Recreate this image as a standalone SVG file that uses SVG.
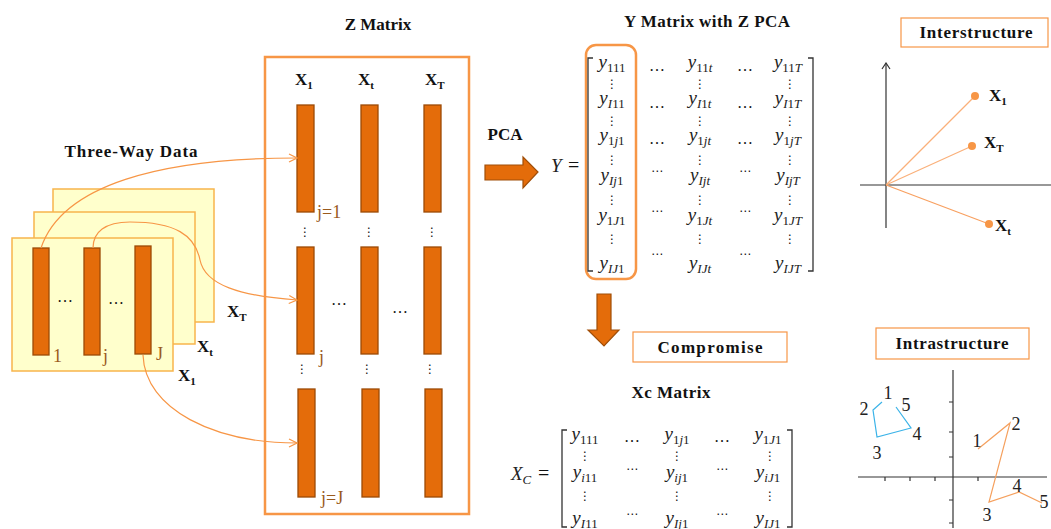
<svg xmlns="http://www.w3.org/2000/svg" width="1051" height="529" viewBox="0 0 1051 529">
<defs>
<style>
text{font-family:"Liberation Serif","Times New Roman",serif;fill:#111}
.t{font-weight:bold;font-size:17px}
.xl{font-weight:bold;font-size:17px}
.xs{font-size:11px;font-weight:bold}
.br{fill:#9a5a1c;font-size:18px}
.layer{fill:#FFFFCC;stroke:#F8B54C;stroke-width:1.5}
.bar{fill:#E46C0A;stroke:#9C4A06;stroke-width:1.3}
.dots{font-family:"DejaVu Sans",sans-serif;font-size:12px;fill:#111}
.hd{font-family:"Liberation Serif",serif;font-size:16px}
.hc{font-family:"DejaVu Sans",sans-serif;font-size:12px}
.m{font-style:italic;font-size:19px;fill:#222}
.s{font-style:normal;font-size:13px}
.i{font-style:italic}
.brk{fill:none;stroke:#333;stroke-width:1.3}
.conn{fill:none;stroke:#F79646;stroke-width:1.2}
.lbox{fill:#fff;stroke:#F79646;stroke-width:1.2}
.blk{fill:#E46C0A;stroke:#A04E08;stroke-width:1.2}
.ax{stroke:#333;stroke-width:1.2;fill:none}
.num{font-size:18px;fill:#222}
</style>
<marker id="oa" viewBox="0 0 10 10" refX="9" refY="5" markerWidth="10" markerHeight="10" markerUnits="userSpaceOnUse" orient="auto">
<path d="M1,1 L9,5 L1,9" fill="none" stroke="#F79646" stroke-width="1.2"/>
</marker>
<marker id="ka" viewBox="0 0 10 10" refX="5" refY="1" markerWidth="10" markerHeight="10" markerUnits="userSpaceOnUse" orient="0">
<path d="M1,7 L5,1 L9,7" fill="none" stroke="#333" stroke-width="1.2"/>
</marker>
</defs>
<rect width="1051" height="529" fill="#fff"/>

<g id="three-way-data">
<text class="t" x="131" y="157" text-anchor="middle" textLength="133">Three-Way Data</text>
<rect class="layer" x="53" y="189" width="161" height="133"/>
<rect class="layer" x="34" y="212" width="161" height="132"/>
<rect class="layer" x="12" y="238" width="161" height="133"/>
<rect class="bar" x="33" y="248" width="16" height="107"/>
<rect class="bar" x="84" y="248" width="16" height="107"/>
<rect class="bar" x="135" y="246" width="16" height="108"/>
<text class="hd" x="65" y="302" text-anchor="middle">…</text>
<text class="hd" x="116" y="304" text-anchor="middle">…</text>
<text class="br" x="53" y="362">1</text>
<text class="br" x="103" y="362">j</text>
<text class="br" x="156" y="360">J</text>
<text class="xl" x="227" y="317">X<tspan class="xs" dy="4">T</tspan></text>
<text class="xl" x="197" y="352">X<tspan class="xs" dy="4">t</tspan></text>
<text class="xl" x="178" y="381">X<tspan class="xs" dy="4">1</tspan></text>
</g>

<g id="z-matrix">
<text class="t" x="378" y="30" text-anchor="middle">Z Matrix</text>
<rect x="265" y="57" width="204" height="457" fill="none" stroke="#F79646" stroke-width="2.5"/>
<text class="xl" x="295" y="85">X<tspan class="xs" dy="4">1</tspan></text>
<text class="xl" x="358" y="85">X<tspan class="xs" dy="4">t</tspan></text>
<text class="xl" x="425" y="85">X<tspan class="xs" dy="4">T</tspan></text>
<rect class="bar" x="297" y="105" width="17" height="107"/>
<rect class="bar" x="361" y="105" width="17" height="107"/>
<rect class="bar" x="424" y="105" width="17" height="107"/>
<rect class="bar" x="297" y="247" width="17" height="107"/>
<rect class="bar" x="361" y="247" width="17" height="107"/>
<rect class="bar" x="424" y="247" width="17" height="107"/>
<rect class="bar" x="298" y="389" width="17" height="108"/>
<rect class="bar" x="362" y="389" width="17" height="108"/>
<rect class="bar" x="425" y="389" width="17" height="108"/>
<text class="dots" x="305" y="236" text-anchor="middle">⋮</text>
<text class="dots" x="369" y="236" text-anchor="middle">⋮</text>
<text class="dots" x="432" y="236" text-anchor="middle">⋮</text>
<text class="dots" x="302" y="373" text-anchor="middle">⋮</text>
<text class="dots" x="367" y="373" text-anchor="middle">⋮</text>
<text class="dots" x="430" y="373" text-anchor="middle">⋮</text>
<text class="hd" x="339" y="305" text-anchor="middle">…</text>
<text class="hd" x="400" y="313" text-anchor="middle">…</text>
<text class="br" x="317" y="218">j=1</text>
<text class="br" x="319" y="363">j</text>
<text class="br" x="321" y="504">j=J</text>
</g>

<g id="connectors">
<path class="conn" d="M41,248 C62,185 160,158 297,158" marker-end="url(#oa)"/>
<path class="conn" d="M93,248 C93,232 105,222 130,222 C175,222 195,235 200,260 C205,285 240,296 297,300" marker-end="url(#oa)"/>
<path class="conn" d="M143,355 C145,410 215,443 297,443" marker-end="url(#oa)"/>
</g>

<g id="pca-arrow">
<text class="t" x="505" y="140" text-anchor="middle">PCA</text>
<path class="blk" d="M485,165 H523 V157 L538,172 L523,188 V180 H485 Z"/>
</g>

<g id="y-matrix">
<text class="t" x="707" y="27" text-anchor="middle" textLength="166">Y Matrix with Z PCA</text>
<rect x="586" y="45" width="50" height="234" rx="10" fill="none" stroke="#F79646" stroke-width="2.5"/>
<text class="m" x="551" y="172">Y</text><text x="568" y="172" font-size="20" fill="#222">=</text>
<path class="brk" d="M593,58 H588 V271 H593"/>
<path class="brk" d="M808,58 H813 V271 H808"/>
<text class="m" x="612" y="68" text-anchor="middle">y<tspan class="s" dy="4">111</tspan></text>
<text class="hd" x="657" y="71" text-anchor="middle">…</text>
<text class="m" x="700" y="68" text-anchor="middle">y<tspan class="s" dy="4">11<tspan class="i">t</tspan></tspan></text>
<text class="hd" x="745" y="71" text-anchor="middle">…</text>
<text class="m" x="788" y="68" text-anchor="middle">y<tspan class="s" dy="4">11<tspan class="i">T</tspan></tspan></text>
<text class="m" x="612" y="104" text-anchor="middle">y<tspan class="s" dy="4"><tspan class="i">I</tspan>11</tspan></text>
<text class="hd" x="657" y="108" text-anchor="middle">…</text>
<text class="m" x="700" y="104" text-anchor="middle">y<tspan class="s" dy="4"><tspan class="i">I</tspan>1<tspan class="i">t</tspan></tspan></text>
<text class="hd" x="745" y="108" text-anchor="middle">…</text>
<text class="m" x="788" y="104" text-anchor="middle">y<tspan class="s" dy="4"><tspan class="i">I</tspan>1<tspan class="i">T</tspan></tspan></text>
<text class="m" x="612" y="141" text-anchor="middle">y<tspan class="s" dy="4">1<tspan class="i">j</tspan>1</tspan></text>
<text class="hd" x="657" y="144" text-anchor="middle">…</text>
<text class="m" x="700" y="141" text-anchor="middle">y<tspan class="s" dy="4">1<tspan class="i">jt</tspan></tspan></text>
<text class="hd" x="745" y="144" text-anchor="middle">…</text>
<text class="m" x="788" y="141" text-anchor="middle">y<tspan class="s" dy="4">1<tspan class="i">jT</tspan></tspan></text>
<text class="m" x="612" y="181" text-anchor="middle">y<tspan class="s" dy="4"><tspan class="i">Ij</tspan>1</tspan></text>
<text class="hc" x="657" y="175" text-anchor="middle">⋯</text>
<text class="m" x="700" y="181" text-anchor="middle">y<tspan class="s" dy="4"><tspan class="i">Ijt</tspan></tspan></text>
<text class="hc" x="745" y="175" text-anchor="middle">⋯</text>
<text class="m" x="788" y="181" text-anchor="middle">y<tspan class="s" dy="4"><tspan class="i">IjT</tspan></tspan></text>
<text class="m" x="612" y="221" text-anchor="middle">y<tspan class="s" dy="4">1<tspan class="i">J</tspan>1</tspan></text>
<text class="hc" x="657" y="215" text-anchor="middle">⋯</text>
<text class="m" x="700" y="221" text-anchor="middle">y<tspan class="s" dy="4">1<tspan class="i">Jt</tspan></tspan></text>
<text class="hc" x="745" y="215" text-anchor="middle">⋯</text>
<text class="m" x="788" y="221" text-anchor="middle">y<tspan class="s" dy="4">1<tspan class="i">JT</tspan></tspan></text>
<text class="m" x="612" y="269" text-anchor="middle">y<tspan class="s" dy="4"><tspan class="i">IJ</tspan>1</tspan></text>
<text class="hc" x="657" y="258" text-anchor="middle">⋯</text>
<text class="m" x="700" y="269" text-anchor="middle">y<tspan class="s" dy="4"><tspan class="i">IJt</tspan></tspan></text>
<text class="hc" x="745" y="258" text-anchor="middle">⋯</text>
<text class="m" x="788" y="269" text-anchor="middle">y<tspan class="s" dy="4"><tspan class="i">IJT</tspan></tspan></text>
<text class="dots" x="612" y="88" text-anchor="middle">⋮</text>
<text class="dots" x="700" y="88" text-anchor="middle">⋮</text>
<text class="dots" x="790" y="88" text-anchor="middle">⋮</text>
<text class="dots" x="612" y="125" text-anchor="middle">⋮</text>
<text class="dots" x="700" y="125" text-anchor="middle">⋮</text>
<text class="dots" x="790" y="125" text-anchor="middle">⋮</text>
<text class="dots" x="612" y="164" text-anchor="middle">⋮</text>
<text class="dots" x="700" y="164" text-anchor="middle">⋮</text>
<text class="dots" x="790" y="164" text-anchor="middle">⋮</text>
<text class="dots" x="612" y="204" text-anchor="middle">⋮</text>
<text class="dots" x="700" y="204" text-anchor="middle">⋮</text>
<text class="dots" x="790" y="204" text-anchor="middle">⋮</text>
<text class="dots" x="612" y="243" text-anchor="middle">⋮</text>
<text class="dots" x="700" y="243" text-anchor="middle">⋮</text>
<text class="dots" x="790" y="243" text-anchor="middle">⋮</text>
</g>

<g id="compromise-arrow">
<path class="blk" d="M597,294 H611 V330 H619 L604,346 L588,330 H597 Z"/>
</g>

<g id="compromise">
<rect class="lbox" x="633" y="332" width="154" height="30"/>
<text class="t" x="710" y="353" text-anchor="middle" textLength="105">Compromise</text>
</g>

<g id="xc-matrix">
<text class="t" x="671" y="398" text-anchor="middle" textLength="79">Xc Matrix</text>
<text class="m" x="511" y="480">X<tspan class="s i" dy="4">C</tspan></text><text x="538" y="480" font-size="20" fill="#222">=</text>
<path class="brk" d="M567,430 H562 V527 H567"/>
<path class="brk" d="M787,430 H792 V527 H787"/>
<text class="m" x="585" y="440" text-anchor="middle">y<tspan class="s" dy="4">111</tspan></text>
<text class="hd" x="632" y="442" text-anchor="middle">…</text>
<text class="m" x="677" y="440" text-anchor="middle">y<tspan class="s" dy="4">1<tspan class="i">j</tspan>1</tspan></text>
<text class="hd" x="722" y="442" text-anchor="middle">…</text>
<text class="m" x="768" y="440" text-anchor="middle">y<tspan class="s" dy="4">1<tspan class="i">J</tspan>1</tspan></text>
<text class="m" x="585" y="478" text-anchor="middle">y<tspan class="s" dy="4"><tspan class="i">i</tspan>11</tspan></text>
<text class="hc" x="632" y="473" text-anchor="middle">⋯</text>
<text class="m" x="677" y="478" text-anchor="middle">y<tspan class="s" dy="4"><tspan class="i">ij</tspan>1</tspan></text>
<text class="hc" x="722" y="473" text-anchor="middle">⋯</text>
<text class="m" x="768" y="478" text-anchor="middle">y<tspan class="s" dy="4"><tspan class="i">iJ</tspan>1</tspan></text>
<text class="m" x="585" y="524" text-anchor="middle">y<tspan class="s" dy="4"><tspan class="i">I</tspan>11</tspan></text>
<text class="hc" x="632" y="518" text-anchor="middle">⋯</text>
<text class="m" x="677" y="524" text-anchor="middle">y<tspan class="s" dy="4"><tspan class="i">Ij</tspan>1</tspan></text>
<text class="hc" x="722" y="518" text-anchor="middle">⋯</text>
<text class="m" x="768" y="524" text-anchor="middle">y<tspan class="s" dy="4"><tspan class="i">IJ</tspan>1</tspan></text>
<text class="dots" x="585" y="460" text-anchor="middle">⋮</text>
<text class="dots" x="677" y="460" text-anchor="middle">⋮</text>
<text class="dots" x="770" y="460" text-anchor="middle">⋮</text>
<text class="dots" x="585" y="500" text-anchor="middle">⋮</text>
<text class="dots" x="677" y="500" text-anchor="middle">⋮</text>
<text class="dots" x="770" y="500" text-anchor="middle">⋮</text>
</g>

<g id="interstructure">
<rect class="lbox" x="901" y="18" width="147" height="29"/>
<text class="t" x="976" y="38" text-anchor="middle" textLength="113">Interstructure</text>
<line class="ax" x1="886" y1="228" x2="886" y2="63" marker-end="url(#ka)"/>
<line class="ax" x1="860" y1="185" x2="1051" y2="185"/>
<line x1="886" y1="185" x2="975" y2="96" stroke="#FAB07A" stroke-width="1.2"/>
<line x1="886" y1="185" x2="972" y2="146" stroke="#FAB07A" stroke-width="1.2"/>
<line x1="886" y1="185" x2="989" y2="224" stroke="#F8A060" stroke-width="1.2"/>
<circle cx="975" cy="96" r="4" fill="#F79646"/>
<circle cx="972" cy="146" r="4" fill="#F79646"/>
<circle cx="989" cy="224" r="4" fill="#F79646"/>
<text class="xl" x="989" y="101">X<tspan class="xs" dy="4">1</tspan></text>
<text class="xl" x="984" y="148">X<tspan class="xs" dy="4">T</tspan></text>
<text class="xl" x="995" y="231">X<tspan class="xs" dy="4">t</tspan></text>
</g>

<g id="intrastructure">
<rect class="lbox" x="876" y="328" width="153" height="31"/>
<text class="t" x="952" y="349" text-anchor="middle" textLength="113">Intrastructure</text>
<line class="ax" x1="953" y1="370" x2="953" y2="528"/>
<line class="ax" x1="858" y1="477" x2="1047" y2="477"/>
<path class="ax" d="M949,402 H953 M949,432 H953 M949,457 H953 M949,500 H953 M949,523 H953 M885,477 V481 M910,477 V481 M935,477 V481 M978,477 V481"/>
<polyline points="882,402 873,410 877,437 911,428 896,407" fill="none" stroke="#3BB3E8" stroke-width="1.2"/>
<polyline points="978,449 1010,423 989,502 1019,492 1042,503" fill="none" stroke="#F5A05E" stroke-width="1.2"/>
<text class="num" x="888" y="399" text-anchor="middle">1</text>
<text class="num" x="864" y="415" text-anchor="middle">2</text>
<text class="num" x="877" y="459" text-anchor="middle">3</text>
<text class="num" x="917" y="440" text-anchor="middle">4</text>
<text class="num" x="906" y="411" text-anchor="middle">5</text>
<text class="num" x="977" y="447" text-anchor="middle">1</text>
<text class="num" x="1016" y="430" text-anchor="middle">2</text>
<text class="num" x="987" y="521" text-anchor="middle">3</text>
<text class="num" x="1017" y="492" text-anchor="middle">4</text>
<text class="num" x="1044" y="508" text-anchor="middle">5</text>
</g>
</svg>
